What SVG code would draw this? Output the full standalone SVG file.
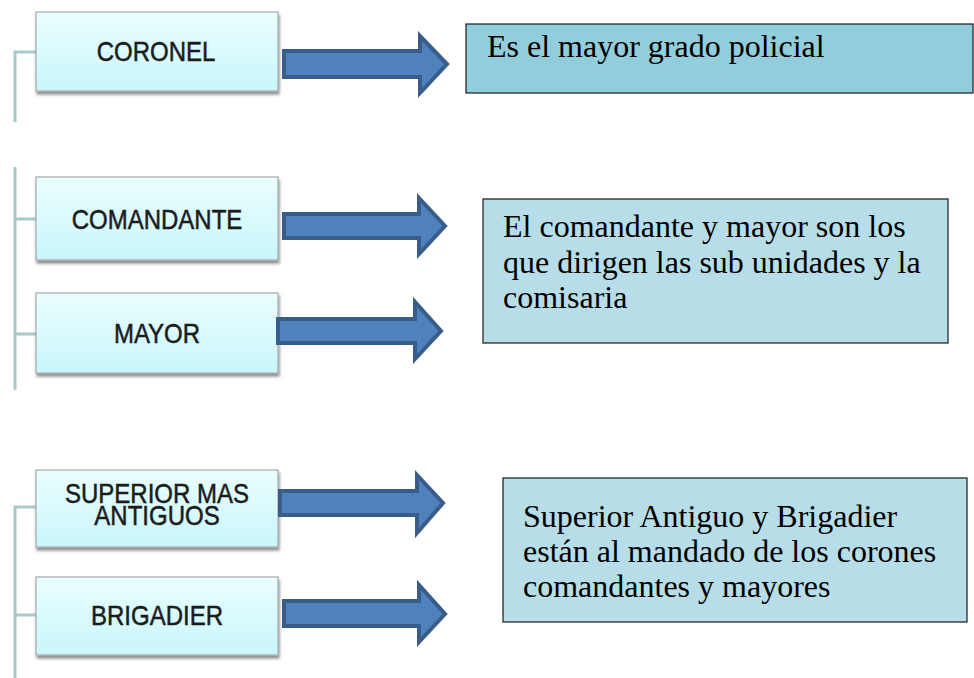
<svg xmlns="http://www.w3.org/2000/svg" width="974" height="678" viewBox="0 0 974 678">
<defs>
<linearGradient id="g" x1="0" y1="0" x2="0" y2="1">
<stop offset="0" stop-color="#eafefe"/>
<stop offset="1" stop-color="#c9f6fb"/>
</linearGradient>
<filter id="sh" x="-10%" y="-10%" width="125%" height="135%">
<feDropShadow dx="1" dy="3" stdDeviation="1.6" flood-color="#000" flood-opacity="0.45"/>
</filter>
<style>
.rank{fill:url(#g);stroke:#a3a9aa;stroke-width:1.2;filter:url(#sh)}
.rt{font-family:"Liberation Sans",Arial,sans-serif;font-size:24px;fill:#1c1c1c;stroke:#1c1c1c;stroke-width:0.45;text-anchor:middle}
.tree{fill:none;stroke:#a9caca;stroke-width:3}
.arr{fill:#4f81bd;stroke:#385d8a;stroke-width:4;stroke-linejoin:miter}
.note{stroke:#1a1a1a;stroke-width:1.2}
.nt{font-family:"Liberation Serif","Times New Roman",serif;font-size:32px;fill:#000}
</style>
</defs>
<rect width="974" height="678" fill="#fff"/>
<g id="connectors">
<path class="tree" d="M36,52 H15 V122"/>
<path class="tree" d="M15,167 V390 M15,219 H36 M15,334 H36"/>
<path class="tree" d="M36,507 H15 V678 M15,615 H36"/>
</g>
<g id="coronel">
<rect class="rank" x="36" y="12" width="242" height="79"/>
<text class="rt" transform="translate(156,61) scale(1,1.12)">CORONEL</text>
</g>
<g id="comandante">
<rect class="rank" x="36" y="177" width="242" height="83"/>
<text class="rt" transform="translate(157,229) scale(1,1.12)">COMANDANTE</text>
</g>
<g id="mayor">
<rect class="rank" x="36" y="293" width="242" height="80"/>
<text class="rt" transform="translate(157,343) scale(1,1.12)">MAYOR</text>
</g>
<g id="superior">
<rect class="rank" x="36" y="470" width="242" height="77"/>
<text class="rt" transform="translate(157,503) scale(1,1.12)">SUPERIOR MAS</text>
<text class="rt" transform="translate(157,525) scale(1,1.12)">ANTIGUOS</text>
</g>
<g id="brigadier">
<rect class="rank" x="36" y="577" width="242" height="78"/>
<text class="rt" transform="translate(157,625) scale(1,1.12)">BRIGADIER</text>
</g>
<g id="arrows">
<path class="arr" d="M284,51 H420 V36 L447,64 L420,93 V77 H284 Z"/>
<path class="arr" d="M284,214 H419 V198 L445,226 L419,254 V238 H284 Z"/>
<path class="arr" d="M278,319 H415 V302 L441,331 L415,359 V343 H278 Z"/>
<path class="arr" d="M280,491 H417 V475 L443,503 L417,533 V515 H280 Z"/>
<path class="arr" d="M284,601 H419 V585 L445,614 L419,642 V626 H284 Z"/>
</g>
<g id="note1">
<rect class="note" x="466" y="24" width="507" height="69" fill="#92cddc"/>
<text class="nt" x="487" y="57">Es el mayor grado policial</text>
</g>
<g id="note2">
<rect class="note" x="483" y="199" width="465" height="144" fill="#b7dde8"/>
<text class="nt" x="503" y="237">El comandante y mayor son los</text>
<text class="nt" x="503" y="273">que dirigen las sub unidades y la</text>
<text class="nt" x="503" y="308">comisaria</text>
</g>
<g id="note3">
<rect class="note" x="503" y="478" width="464" height="144" fill="#b7dde8"/>
<text class="nt" x="523" y="527">Superior Antiguo y Brigadier</text>
<text class="nt" x="523" y="562">están al mandado de los corones</text>
<text class="nt" x="523" y="597">comandantes y mayores</text>
</g>
</svg>
